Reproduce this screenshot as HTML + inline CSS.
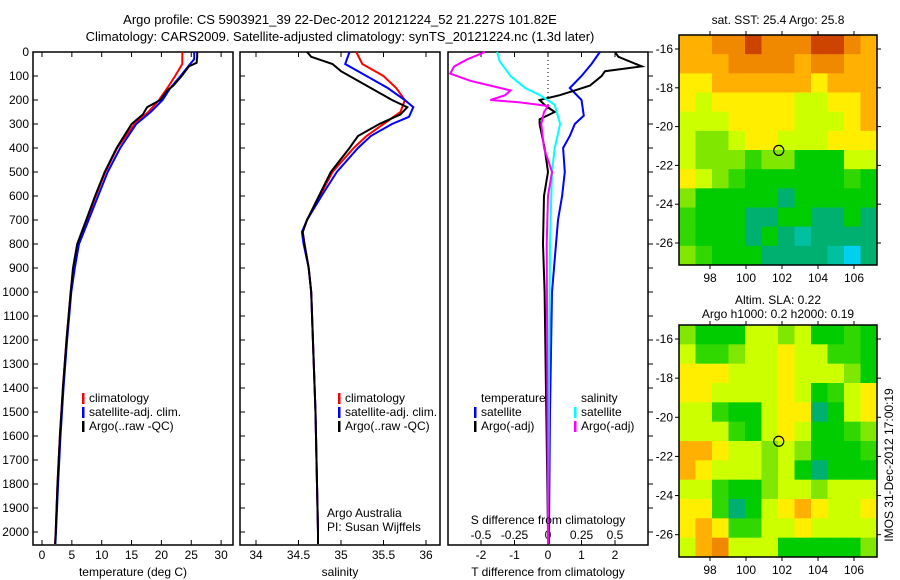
<!DOCTYPE html>
<html><head><meta charset="utf-8"><style>
body{margin:0;background:#fff;}
svg{display:block;font-family:"Liberation Sans",sans-serif;}
</style></head><body>
<svg id="c" width="900" height="580" viewBox="0 0 900 580"></svg>
<script>
// ---- data ----
const tClimP=[0,50,100,150,200,250,300,400,500,600,700,800,900,1000,1200,1400,1600,1800,2000,2050];
const tClimV=[23.5,23.5,22.3,21,19.6,17.8,15.5,12.6,10.6,9,7.5,6,5.3,4.8,4.1,3.5,3,2.6,2.3,2.2];
const tSatP=[0,30,50,100,150,200,250,300,400,500,600,700,800,900,1000,1200,1400,1600,1800,2000,2050];
const tSatV=[25.5,25.5,24.8,23.2,21.5,20.2,18.2,15.8,13.1,11,9.4,7.8,6.2,5.5,4.9,4.2,3.6,3.1,2.7,2.35,2.25];
const tArgoP=[0,20,45,60,100,140,160,200,230,260,300,400,500,600,700,800,900,1000,1200,1400,1600,1800,2000,2050];
const tArgoV=[26,26,25.9,24.6,23.4,22,21,19.8,17.6,16.9,15,12.5,10.5,8.9,7.4,5.9,5.2,4.8,4.1,3.5,3,2.6,2.3,2.2];
const sClimP=[0,50,100,150,200,250,300,350,400,500,600,700,750,800,900,1000,1500,2000,2050];
const sClimV=[35.18,35.25,35.5,35.65,35.75,35.7,35.5,35.3,35.15,34.9,34.75,34.6,34.55,34.57,34.62,34.65,34.7,34.73,34.73];
const sSatP=[0,50,100,150,200,230,270,300,350,400,500,600,700,750,800,900,1000,1500,2000,2050];
const sSatV=[35.1,35.05,35.3,35.55,35.75,35.85,35.8,35.6,35.35,35.2,34.95,34.77,34.6,34.54,34.56,34.62,34.65,34.7,34.73,34.73];
const sArgoP=[0,20,50,80,100,150,200,230,260,300,350,400,500,600,700,750,800,900,1000,1500,2000,2050];
const sArgoV=[34.6,34.65,34.9,35.0,35.1,35.35,35.6,35.78,35.7,35.45,35.2,35.1,34.88,34.74,34.6,34.55,34.57,34.62,34.65,34.7,34.73,34.73];
const dTSatP=[0,50,100,150,200,265,300,350,400,500,600,700,800,1000,1500,2000,2050];
const dTSatV=[1.55,1.3,1.0,0.65,1.0,1.07,0.8,0.65,0.45,0.5,0.42,0.3,0.24,0.12,0.06,0.03,0.03];
const dTArgoP=[0,20,60,80,100,140,160,180,200,220,250,280,300,400,500,600,800,1000,1500,2000,2050];
const dTArgoV=[2.0,2.1,2.8,1.7,1.6,1.25,0.8,0.35,-0.25,-0.1,0.2,-0.25,-0.25,-0.1,0,-0.12,-0.15,-0.1,-0.05,0,0];
const dSSatP=[0,40,100,150,180,220,300,400,500,800,2000,2050];
const dSSatV=[-0.38,-0.36,-0.28,-0.17,-0.06,0.05,0.09,0.05,0.03,0.015,0,0];
const dSArgoP=[0,30,60,90,120,140,160,180,200,210,225,250,300,400,500,600,800,2000,2050];
const dSArgoV=[-0.47,-0.6,-0.7,-0.73,-0.58,-0.43,-0.28,-0.32,-0.43,-0.21,0,-0.03,-0.05,-0.03,0.03,0,-0.01,0,0];
const pTicks=[0,100,200,300,400,500,600,700,800,900,1000,1100,1200,1300,1400,1500,1600,1700,1800,1900,2000];
const tTicks=[0,5,10,15,20,25,30];
const sTicks=[34,34.5,35,35.5,36];
const dTTicks=[-2,-1,0,1,2];
const dSTicks=[-0.5,-0.25,0,0.25,0.5];
const dSTickLabels=["-0.5","-0.25","0","0.25","0.5"];
const latTicks=[16,18,20,22,24,26];
const lonTicks=[98,100,102,104,106];
const sstGrid=[
[8,8,9,9,10,9,9,9,10,10,9,8],[8,8,8,9,9,9,9,8,9,9,8,8],[7,7,8,8,8,8,8,8,7,8,8,8],
[7,6,7,7,7,7,7,6,6,7,7,8],[6,6,6,7,7,7,7,6,6,6,7,8],[6,5,5,6,7,7,6,6,6,7,7,7],
[6,5,5,5,4,5,5,3,3,3,6,6],[7,6,5,4,3,3,3,3,3,3,4,3],[5,3,3,3,3,3,2,3,3,3,3,3],
[4,3,3,3,2,2,3,3,2,2,3,2],[4,3,3,3,2,3,2,1,2,2,2,2],[5,4,3,3,3,2,2,2,2,1,0,2]];
const slaGrid=[
[5,3,3,3,6,6,5,6,3,3,4,3],[6,4,4,5,6,6,7,6,6,4,4,3],[7,7,7,6,6,6,7,6,6,6,5,3],
[7,7,6,6,6,6,7,6,3,4,6,7],[6,6,4,3,3,6,7,7,2,3,6,7],[6,6,6,4,3,6,7,6,3,3,4,5],
[8,8,7,6,6,5,6,5,3,3,3,4],[8,7,6,6,6,5,6,3,2,3,3,3],[6,6,4,3,3,5,6,6,5,6,6,6],
[7,7,4,2,3,6,7,8,7,6,6,7],[7,8,7,4,4,6,6,7,6,6,6,6],[6,8,9,6,6,6,3,3,3,3,3,5]];
const argoLon=101.82, argoLat=21.227;

// ---- drawing ----
const svg=document.getElementById('c');const NS='http://www.w3.org/2000/svg';
function mk(tag,attrs,parent,name){const e=document.createElementNS(NS,tag);for(const k in attrs)e.setAttribute(k,attrs[k]);
 
 
 (parent||svg).appendChild(e);return e;}
function txt(x,y,s,anchor,name,size){const t=mk('text',{x:x,y:y,'font-size':size||12,'text-anchor':anchor||'start',fill:'#000'},svg,name);t.textContent=s;return t;}
const PY0=52, PYS=0.24; const yP=p=>PY0+p*PYS;
const TOP=52,BOT=545;
function frame(x0,x1,name){mk('rect',{x:x0,y:TOP,width:x1-x0,height:BOT-TOP,fill:'none',stroke:'#000','stroke-width':1.5},svg,name);}
function line(P,V,fx,color,name,w){let d='';P.forEach((p,i)=>{d+=(i?'L':'M')+fx(V[i]).toFixed(1)+' '+yP(p).toFixed(1);});
 mk('path',{d:d,fill:'none',stroke:color,'stroke-width':w||2},svg,name);}
// panel 1
const xT=v=>42+v*5.97;
frame(33,233,'temperature-panel-frame');
pTicks.forEach(p=>{mk('line',{x1:33,x2:38,y1:yP(p),y2:yP(p),stroke:'#000'},svg,'y-tick');txt(29,yP(p)+4,String(p),'end','y-tick-label');});
tTicks.forEach(v=>{mk('line',{x1:xT(v),x2:xT(v),y1:BOT,y2:BOT-5,stroke:'#000'},svg,'x-tick');mk('line',{x1:xT(v),x2:xT(v),y1:TOP,y2:TOP+5,stroke:'#000'},svg,'x-tick-top');txt(xT(v),559,String(v),'middle','x-tick-label');});
line(tClimP,tClimV,xT,'#f00','temp-climatology-line');
line(tSatP,tSatV,xT,'#00f','temp-satellite-line');
line(tArgoP,tArgoV,xT,'#000','temp-argo-line');
txt(133,576,'temperature (deg C)','middle','x-axis-title-temperature');
// panel 2
const xS=v=>256+(v-34)*85;
frame(240,440,'salinity-panel-frame');
pTicks.forEach(p=>{mk('line',{x1:240,x2:245,y1:yP(p),y2:yP(p),stroke:'#000'},svg,'y-tick');});
sTicks.forEach(v=>{mk('line',{x1:xS(v),x2:xS(v),y1:BOT,y2:BOT-5,stroke:'#000'},svg,'x-tick');mk('line',{x1:xS(v),x2:xS(v),y1:TOP,y2:TOP+5,stroke:'#000'},svg,'x-tick-top');txt(xS(v),559,String(v),'middle','x-tick-label');});
line(sClimP,sClimV,xS,'#f00','sal-climatology-line');
line(sSatP,sSatV,xS,'#00f','sal-satellite-line');
line(sArgoP,sArgoV,xS,'#000','sal-argo-line');
txt(340,576,'salinity','middle','x-axis-title-salinity');
txt(327,517,'Argo Australia','start','credit-line-1');
txt(327,531,'PI: Susan Wijffels','start','credit-line-2');
// panel 3
const xD=v=>548+v*33.5; const xDS=v=>548+v*134;
frame(448,648,'difference-panel-frame');
pTicks.forEach(p=>{mk('line',{x1:648,x2:653,y1:yP(p),y2:yP(p),stroke:'#000'},svg,'y-tick-right');});
dTTicks.forEach(v=>{mk('line',{x1:xD(v),x2:xD(v),y1:BOT,y2:BOT-5,stroke:'#000'},svg,'x-tick');mk('line',{x1:xD(v),x2:xD(v),y1:TOP,y2:TOP+5,stroke:'#000'},svg,'x-tick-top');txt(xD(v),559,String(v),'middle','x-tick-label-t');});
dSTicks.forEach((v,i)=>{txt(xDS(v),539,dSTickLabels[i],'middle','x-tick-label-s');});
mk('line',{x1:548,x2:548,y1:TOP,y2:yP(240),stroke:'#000','stroke-dasharray':'1 3'},svg,'zero-line');
line(dTSatP,dTSatV,xD,'#00f','t-diff-satellite-line');
line(dTArgoP,dTArgoV,xD,'#000','t-diff-argo-line');
line(dSSatP,dSSatV,xDS,'#0ff','s-diff-satellite-line');
line(dSArgoP,dSArgoV,xDS,'#f0f','s-diff-argo-line');
txt(548,524,'S difference from climatology','middle','s-axis-title');
txt(548,576,'T difference from climatology','middle','t-axis-title');
// legends
function leg(x,y,c,s,name){mk('rect',{x:x,y:y-9,width:2.5,height:11,fill:c},svg,name+'-swatch');txt(x+7,y,s,'start',name);}
[[33+49,'p1'],[240+98,'p2']].forEach(([x,n])=>{leg(x,402,'#f00','climatology','legend-climatology-'+n);leg(x,416,'#00f','satellite-adj. clim.','legend-satellite-'+n);leg(x,430,'#000','Argo(..raw -QC)','legend-argo-'+n);});
txt(481,402,'temperature','start','legend-title-temperature');
leg(474,416,'#00f','satellite','legend-t-satellite');leg(474,430,'#000','Argo(-adj)','legend-t-argo');
txt(581,402,'salinity','start','legend-title-salinity');
leg(574,416,'#0ff','satellite','legend-s-satellite');leg(574,430,'#f0f','Argo(-adj)','legend-s-argo');
// title
txt(340,24,'Argo profile: CS 5903921_39 22-Dec-2012 20121224_52 21.227S 101.82E','middle','title-line-1',13);
txt(340,41,'Climatology: CARS2009. Satellite-adjusted climatology: synTS_20121224.nc (1.3d later)','middle','title-line-2',13);
// maps
const cmap=['#00d0f0','#00c0a0','#00b070','#00cc00','#30d800','#80e800','#ccff00','#ffee00','#ffb000','#f08800','#cc4400'];
function map(grid,y0,y1,name,title1,title2){
 const x0=679,x1=877; const lonX=v=>710+(v-98)*18; const latY=v=>(y0+14)+(v-16)*19.4*((y1-y0)/230);
 const rows=grid.length, cols=grid[0].length, cw=(x1-x0)/cols, ch=(y1-y0)/rows;
 grid.forEach((r,i)=>r.forEach((v,j)=>{mk('rect',{x:x0+j*cw,y:y0+i*ch,width:cw+0.5,height:ch+0.5,fill:cmap[v]},svg,name+'-cell');}));
 mk('rect',{x:x0,y:y0,width:x1-x0,height:y1-y0,fill:'none',stroke:'#000','stroke-width':1.5},svg,name+'-frame');
 latTicks.forEach(v=>{const y=latY(v);mk('line',{x1:x0-4,x2:x0,y1:y,y2:y,stroke:'#000'},svg,'lat-tick');mk('line',{x1:x1,x2:x1+4,y1:y,y2:y,stroke:'#000'},svg,'lat-tick-right');txt(x0-6,y+4,'-'+v,'end','lat-tick-label');});
 lonTicks.forEach(v=>{const x=lonX(v);mk('line',{x1:x,x2:x,y1:y1,y2:y1+4,stroke:'#000'},svg,'lon-tick');mk('line',{x1:x,x2:x,y1:y0-4,y2:y0,stroke:'#000'},svg,'lon-tick-top');txt(x,y1+17,String(v),'middle','lon-tick-label');});
 mk('circle',{cx:lonX(argoLon),cy:latY(argoLat),r:5,fill:'none',stroke:'#000','stroke-width':1.2},svg,name+'-argo-marker');
 if(title2){txt(778,y0-21,title1,'middle',name+'-title-1');txt(778,y0-7,title2,'middle',name+'-title-2');}else txt(778,y0-11,title1,'middle',name+'-title');
}
map(sstGrid,35,265,'sst-map','sat. SST: 25.4 Argo: 25.8');
map(slaGrid,325,557,'sla-map','Altim. SLA: 0.22','Argo h1000: 0.2 h2000: 0.19');
const v=txt(0,0,'IMOS 31-Dec-2012 17:00:19','middle','timestamp-label');v.setAttribute('transform','translate(893,465) rotate(-90)');
</script>
</body></html>
